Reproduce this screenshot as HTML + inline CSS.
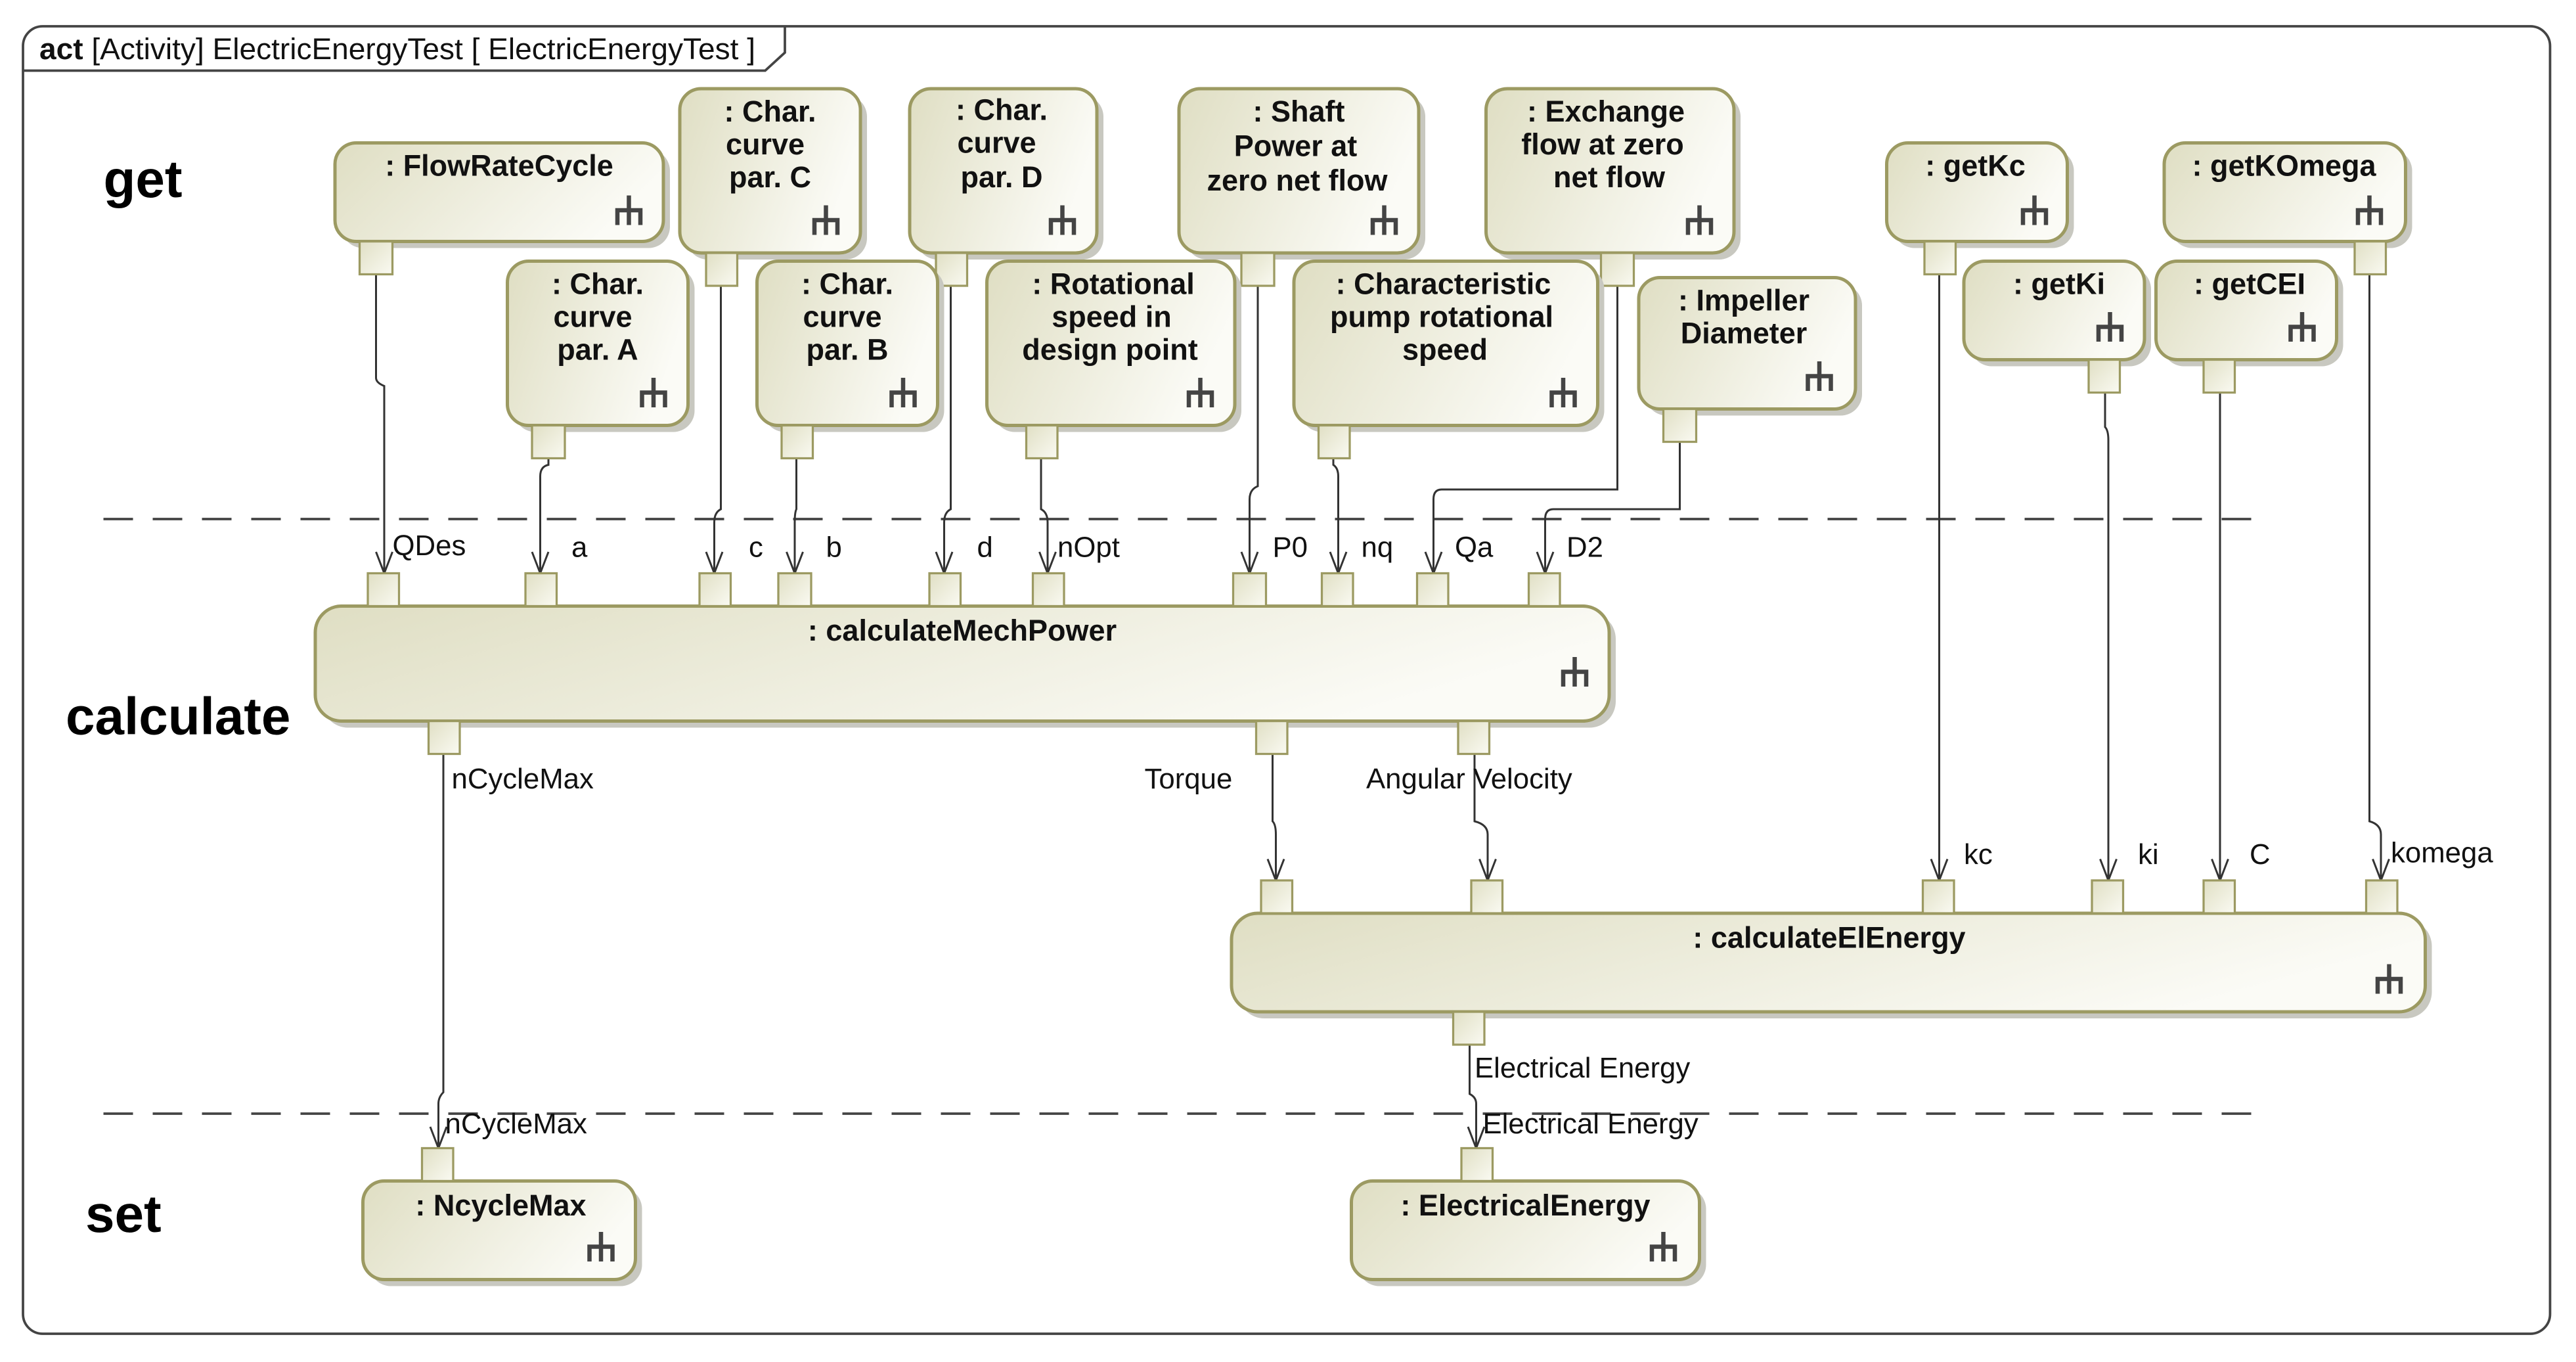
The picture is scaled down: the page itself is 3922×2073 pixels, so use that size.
<!DOCTYPE html>
<html><head><meta charset="utf-8"><style>
html,body{margin:0;padding:0;background:#fff;}
svg{display:block;}
text{font-family:"Liberation Sans",Arial,sans-serif;}
.n{font-weight:bold;font-size:18px;fill:#111;text-anchor:middle;}
.p{font-size:17.5px;fill:#111;}
.box{fill:url(#g);stroke:#9c9a62;stroke-width:2;}
.sh{fill:#c8c8c0;}
.pin{fill:url(#g2);stroke:#9c9a62;stroke-width:1.3;}
.e{fill:none;stroke:#333;stroke-width:1.2;}
</style></head><body>
<svg width="3922" height="2073" viewBox="0 0 1568.8 829.2" xmlns="http://www.w3.org/2000/svg">
<defs>
<linearGradient id="g" x1="0" y1="0" x2="1" y2="0.3"><stop offset="0" stop-color="#dfdec3"/><stop offset="1" stop-color="#fbfbf6"/></linearGradient>
<linearGradient id="g2" x1="0" y1="0" x2="1" y2="1"><stop offset="0" stop-color="#e0dfc4"/><stop offset="1" stop-color="#fafaf2"/></linearGradient>
<symbol id="rk" overflow="visible"><path d="M0,-18 V0 M-7,0 V-9 H7 V0 M0,-9 V0" fill="none" stroke="#444" stroke-width="2.6"/></symbol>
<symbol id="ah" overflow="visible"><path d="M-5,-13 L0,0 L5,-13" fill="none" stroke="#333" stroke-width="1.2"/></symbol>
</defs>
<rect width="1568.8" height="829.2" fill="#fff"/>
<rect x="14" y="16" width="1539" height="796" rx="12" fill="none" stroke="#444" stroke-width="1.5"/>
<path d="M14,43 H466 L478,32 V16" fill="none" stroke="#444" stroke-width="1.5"/>
<text x="24" y="36" style="font-size:18px" fill="#111" textLength="436" lengthAdjust="spacingAndGlyphs"><tspan font-weight="bold">act</tspan> [Activity] ElectricEnergyTest [ ElectricEnergyTest ]</text>
<text x="63" y="120" style="font-size:32px;font-weight:bold" fill="#000">get</text>
<text x="40" y="447" style="font-size:32px;font-weight:bold" fill="#000">calculate</text>
<text x="52" y="750" style="font-size:32px;font-weight:bold" fill="#000">set</text>
<line x1="63" y1="316" x2="1372" y2="316" stroke="#444" stroke-width="1.5" stroke-dasharray="18,12"/>
<line x1="63" y1="678" x2="1382" y2="678" stroke="#444" stroke-width="1.5" stroke-dasharray="18,12"/>

<path class="e" d="M229,167 V230 Q229,233 234,235 V349"/><use href="#ah" x="234" y="349"/>
<path class="e" d="M334,279 V283 Q329,284 329,290 V349"/><use href="#ah" x="329" y="349"/>
<path class="e" d="M439,174 V310 Q435,312 435,318 V349"/><use href="#ah" x="435" y="349"/>
<path class="e" d="M485,279 V310 Q484,312 484,318 V349"/><use href="#ah" x="484" y="349"/>
<path class="e" d="M579,174 V310 Q575,312 575,318 V349"/><use href="#ah" x="575" y="349"/>
<path class="e" d="M634,279 V310 Q638,312 638,318 V349"/><use href="#ah" x="638" y="349"/>
<path class="e" d="M766,174 V296 Q761,298 761,304 V349"/><use href="#ah" x="761" y="349"/>
<path class="e" d="M812,279 V283 Q815,285 815,290 V349"/><use href="#ah" x="815" y="349"/>
<path class="e" d="M985,174 V298 H878 Q873,298 873,304 V349"/><use href="#ah" x="873" y="349"/>
<path class="e" d="M1023,269 V310 H946 Q941,310 941,316 V349"/><use href="#ah" x="941" y="349"/>
<path class="e" d="M1181,167 V536"/><use href="#ah" x="1181" y="536"/>
<path class="e" d="M1282,239 V260 Q1284,262 1284,268 V536"/><use href="#ah" x="1284" y="536"/>
<path class="e" d="M1352,239 V258 Q1352,262 1352,266 V536"/><use href="#ah" x="1352" y="536"/>
<path class="e" d="M1443,167 V500 Q1450,502 1450,508 V536"/><use href="#ah" x="1450" y="536"/>
<path class="e" d="M270,459 V665 Q267,668 267,672 V699"/><use href="#ah" x="267" y="699"/>
<path class="e" d="M775,459 V500 Q777,502 777,508 V536"/><use href="#ah" x="777" y="536"/>
<path class="e" d="M898,459 V500 Q906,502 906,508 V536"/><use href="#ah" x="906" y="536"/>
<path class="e" d="M895,636 V666 Q899,668 899,672 V699"/><use href="#ah" x="899" y="699"/>

<g>
<rect class="sh" x="208" y="91" width="200" height="60" rx="13"/><rect class="box" x="204" y="87" width="200" height="60" rx="13"/>
<text class="n" x="304" y="107">: FlowRateCycle</text><use href="#rk" x="383" y="137"/>
<rect class="pin" x="219" y="147" width="20" height="20"/>

<rect class="sh" x="418" y="58" width="110" height="100" rx="13"/><rect class="box" x="414" y="54" width="110" height="100" rx="13"/>
<text class="n" x="469" y="74">: Char.</text><text class="n" x="466" y="94">curve</text><text class="n" x="469" y="114">par. C</text><use href="#rk" x="503" y="143"/>
<rect class="pin" x="430" y="154" width="19" height="20"/>

<rect class="sh" x="558" y="58" width="114" height="100" rx="13"/><rect class="box" x="554" y="54" width="114" height="100" rx="13"/>
<text class="n" x="610" y="73">: Char.</text><text class="n" x="607" y="93">curve</text><text class="n" x="610" y="114">par. D</text><use href="#rk" x="647" y="143"/>
<rect class="pin" x="570" y="154" width="19" height="20"/>

<rect class="sh" x="722" y="58" width="146" height="100" rx="13"/><rect class="box" x="718" y="54" width="146" height="100" rx="13"/>
<text class="n" x="791" y="74">: Shaft</text><text class="n" x="789" y="95">Power at</text><text class="n" x="790" y="116">zero net flow</text><use href="#rk" x="843" y="143"/>
<rect class="pin" x="756" y="154" width="20" height="20"/>

<rect class="sh" x="909" y="58" width="151" height="100" rx="13"/><rect class="box" x="905" y="54" width="151" height="100" rx="13"/>
<text class="n" x="978" y="74">: Exchange</text><text class="n" x="976" y="94">flow at zero</text><text class="n" x="980" y="114">net flow</text><use href="#rk" x="1035" y="143"/>
<rect class="pin" x="975" y="154" width="20" height="20"/>

<rect class="sh" x="1153" y="91" width="110" height="60" rx="13"/><rect class="box" x="1149" y="87" width="110" height="60" rx="13"/>
<text class="n" x="1203" y="107">: getKc</text><use href="#rk" x="1239" y="137"/>
<rect class="pin" x="1172" y="147" width="19" height="20"/>

<rect class="sh" x="1322" y="91" width="147" height="60" rx="13"/><rect class="box" x="1318" y="87" width="147" height="60" rx="13"/>
<text class="n" x="1391" y="107">: getKOmega</text><use href="#rk" x="1443" y="137"/>
<rect class="pin" x="1434" y="147" width="19" height="20"/>

<rect class="sh" x="313" y="163" width="110" height="100" rx="13"/><rect class="box" x="309" y="159" width="110" height="100" rx="13"/>
<text class="n" x="364" y="179">: Char.</text><text class="n" x="361" y="199">curve</text><text class="n" x="364" y="219">par. A</text><use href="#rk" x="398" y="248"/>
<rect class="pin" x="324" y="259" width="20" height="20"/>

<rect class="sh" x="465" y="163" width="110" height="100" rx="13"/><rect class="box" x="461" y="159" width="110" height="100" rx="13"/>
<text class="n" x="516" y="179">: Char.</text><text class="n" x="513" y="199">curve</text><text class="n" x="516" y="219">par. B</text><use href="#rk" x="550" y="248"/>
<rect class="pin" x="476" y="259" width="19" height="20"/>

<rect class="sh" x="605" y="163" width="151" height="100" rx="13"/><rect class="box" x="601" y="159" width="151" height="100" rx="13"/>
<text class="n" x="678" y="179">: Rotational</text><text class="n" x="677" y="199">speed in</text><text class="n" x="676" y="219">design point</text><use href="#rk" x="731" y="248"/>
<rect class="pin" x="625" y="259" width="19" height="20"/>

<rect class="sh" x="792" y="163" width="185" height="100" rx="13"/><rect class="box" x="788" y="159" width="185" height="100" rx="13"/>
<text class="n" x="879" y="179">: Characteristic</text><text class="n" x="878" y="199">pump rotational</text><text class="n" x="880" y="219">speed</text><use href="#rk" x="952" y="248"/>
<rect class="pin" x="803" y="259" width="19" height="20"/>

<rect class="sh" x="1002" y="173" width="132" height="80" rx="13"/><rect class="box" x="998" y="169" width="132" height="80" rx="13"/>
<text class="n" x="1062" y="189">: Impeller</text><text class="n" x="1062" y="209">Diameter</text><use href="#rk" x="1108" y="238"/>
<rect class="pin" x="1013" y="249" width="20" height="20"/>

<rect class="sh" x="1200" y="163" width="110" height="60" rx="13"/><rect class="box" x="1196" y="159" width="110" height="60" rx="13"/>
<text class="n" x="1254" y="179">: getKi</text><use href="#rk" x="1285" y="208"/>
<rect class="pin" x="1272" y="219" width="19" height="20"/>

<rect class="sh" x="1317" y="163" width="110" height="60" rx="13"/><rect class="box" x="1313" y="159" width="110" height="60" rx="13"/>
<text class="n" x="1370" y="179">: getCEI</text><use href="#rk" x="1402" y="208"/>
<rect class="pin" x="1342" y="219" width="19" height="20"/>
</g>

<rect class="sh" x="196" y="373" width="788" height="70" rx="16"/><rect class="box" x="192" y="369" width="788" height="70" rx="16"/>
<text class="n" x="586" y="390">: calculateMechPower</text><use href="#rk" x="959" y="418"/>
<rect class="pin" x="224" y="349" width="19" height="20"/><rect class="pin" x="320" y="349" width="19" height="20"/>
<rect class="pin" x="426" y="349" width="19" height="20"/><rect class="pin" x="474" y="349" width="20" height="20"/>
<rect class="pin" x="566" y="349" width="19" height="20"/><rect class="pin" x="629" y="349" width="19" height="20"/>
<rect class="pin" x="751" y="349" width="20" height="20"/><rect class="pin" x="805" y="349" width="19" height="20"/>
<rect class="pin" x="863" y="349" width="19" height="20"/><rect class="pin" x="931" y="349" width="19" height="20"/>
<rect class="pin" x="261" y="439" width="19" height="20"/><rect class="pin" x="765" y="439" width="19" height="20"/>
<rect class="pin" x="888" y="439" width="19" height="20"/>
<text class="p" x="239" y="338">QDes</text><text class="p" x="348" y="339">a</text>
<text class="p" x="456" y="339">c</text><text class="p" x="503" y="339">b</text>
<text class="p" x="595" y="339">d</text><text class="p" x="644" y="339">nOpt</text>
<text class="p" x="775" y="339">P0</text><text class="p" x="829" y="339">nq</text>
<text class="p" x="886" y="339">Qa</text><text class="p" x="954" y="339">D2</text>
<text class="p" x="275" y="480">nCycleMax</text><text class="p" x="697" y="480">Torque</text>
<text class="p" x="832" y="480">Angular Velocity</text>

<rect class="sh" x="754" y="560" width="727" height="60" rx="16"/><rect class="box" x="750" y="556" width="727" height="60" rx="16"/>
<text class="n" x="1114" y="577">: calculateElEnergy</text><use href="#rk" x="1455" y="605"/>
<rect class="pin" x="768" y="536" width="19" height="20"/><rect class="pin" x="896" y="536" width="19" height="20"/>
<rect class="pin" x="1171" y="536" width="19" height="20"/><rect class="pin" x="1274" y="536" width="19" height="20"/>
<rect class="pin" x="1342" y="536" width="19" height="20"/><rect class="pin" x="1441" y="536" width="19" height="20"/>
<rect class="pin" x="885" y="616" width="19" height="20"/>
<text class="p" x="1196" y="526">kc</text><text class="p" x="1302" y="526">ki</text>
<text class="p" x="1370" y="526">C</text><text class="p" x="1456" y="525">komega</text>
<text class="p" x="898" y="656">Electrical Energy</text>

<rect class="sh" x="225" y="723" width="166" height="60" rx="13"/><rect class="box" x="221" y="719" width="166" height="60" rx="13"/>
<text class="n" x="305" y="740">: NcycleMax</text><use href="#rk" x="366" y="768"/>
<rect class="pin" x="257" y="699" width="19" height="20"/>
<text class="p" x="271" y="690">nCycleMax</text>
<rect class="sh" x="827" y="723" width="212" height="60" rx="13"/><rect class="box" x="823" y="719" width="212" height="60" rx="13"/>
<text class="n" x="929" y="740">: ElectricalEnergy</text><use href="#rk" x="1013" y="768"/>
<rect class="pin" x="890" y="699" width="19" height="20"/>
<text class="p" x="903" y="690">Electrical Energy</text>
</svg>
</body></html>
